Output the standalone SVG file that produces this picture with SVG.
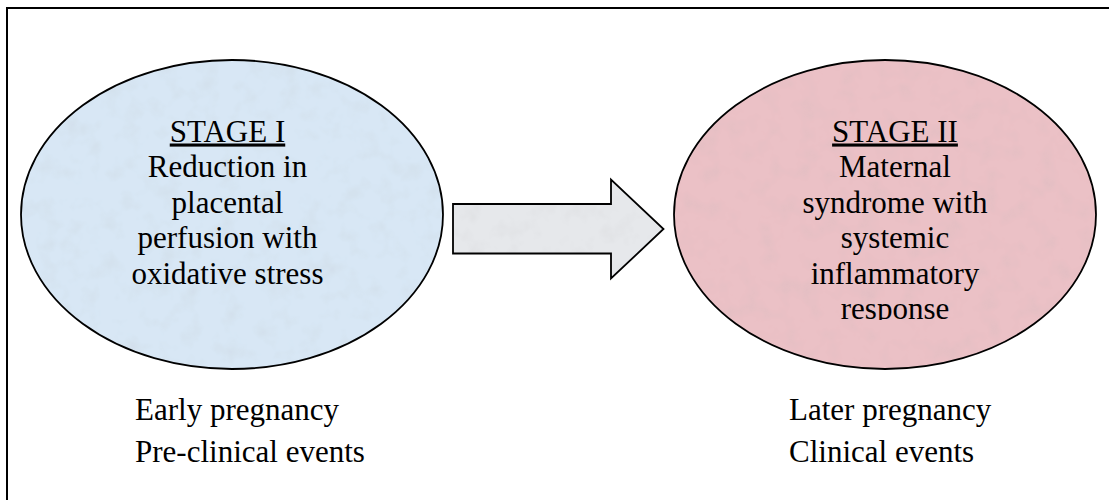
<svg xmlns="http://www.w3.org/2000/svg" width="1109" height="500" viewBox="0 0 1109 500">
<style>
.t{font-family:"Liberation Serif","Times New Roman",serif;font-size:31px;fill:#000}
.c{text-anchor:middle}
.u{text-decoration:underline}
.shape{stroke:#000;stroke-width:1.8}
</style>
<defs>
<filter id="tex" x="0" y="0" width="100%" height="100%">
<feTurbulence type="fractalNoise" baseFrequency="0.05" numOctaves="3" seed="4" result="n"/>
<feColorMatrix in="n" type="matrix" values="0 0 0 0 0.45  0 0 0 0 0.45  0 0 0 0 0.45  0 0 0 -0.35 0.18" result="m"/>
<feComposite in="m" in2="SourceGraphic" operator="in" result="mm"/>
<feMerge><feMergeNode in="SourceGraphic"/><feMergeNode in="mm"/></feMerge>
</filter>
<clipPath id="rc"><rect x="660" y="60" width="449" height="260"/></clipPath>
</defs>
<rect x="7" y="8" width="1110" height="500" fill="#fff" stroke="#000" stroke-width="2"/>
<g id="stage1">
<ellipse cx="232" cy="214.5" rx="211" ry="154.5" fill="#d8e7f5" filter="url(#tex)"/>
<ellipse class="shape" cx="232" cy="214.5" rx="211" ry="154.5" fill="none"/>
<text class="t c u" x="227.5" y="141.5">STAGE I</text>
<text class="t c" x="227.5" y="177">Reduction in</text>
<text class="t c" x="227.5" y="212.5">placental</text>
<text class="t c" x="227.5" y="248">perfusion with</text>
<text class="t c" x="227.5" y="283.5">oxidative stress</text>
</g>
<g id="stage2">
<ellipse cx="885" cy="214.5" rx="211" ry="154.5" fill="#ebc1c6" filter="url(#tex)"/>
<ellipse class="shape" cx="885" cy="214.5" rx="211" ry="154.5" fill="none"/>
<text class="t c u" x="895" y="141.5">STAGE II</text>
<text class="t c" x="895" y="177">Maternal</text>
<text class="t c" x="895" y="212.5">syndrome with</text>
<text class="t c" x="895" y="248">systemic</text>
<text class="t c" x="895" y="283.5">inflammatory</text>
<text class="t c" x="895" y="319" clip-path="url(#rc)">response</text>
</g>
<g id="connectors">
<path d="M453,204 L611,204 L611,179.5 L663.5,229 L611,278.5 L611,253.5 L453,253.5 Z" fill="#e6e8eb" filter="url(#tex)"/>
<path class="shape" d="M453,204 L611,204 L611,179.5 L663.5,229 L611,278.5 L611,253.5 L453,253.5 Z" fill="none" stroke-linejoin="miter"/>
</g>
<g id="labels1">
<text class="t" x="135" y="420">Early pregnancy</text>
<text class="t" x="135" y="461.5">Pre-clinical events</text>
</g>
<g id="labels2">
<text class="t" x="789" y="420">Later pregnancy</text>
<text class="t" x="789" y="461.5">Clinical events</text>
</g>
</svg>
